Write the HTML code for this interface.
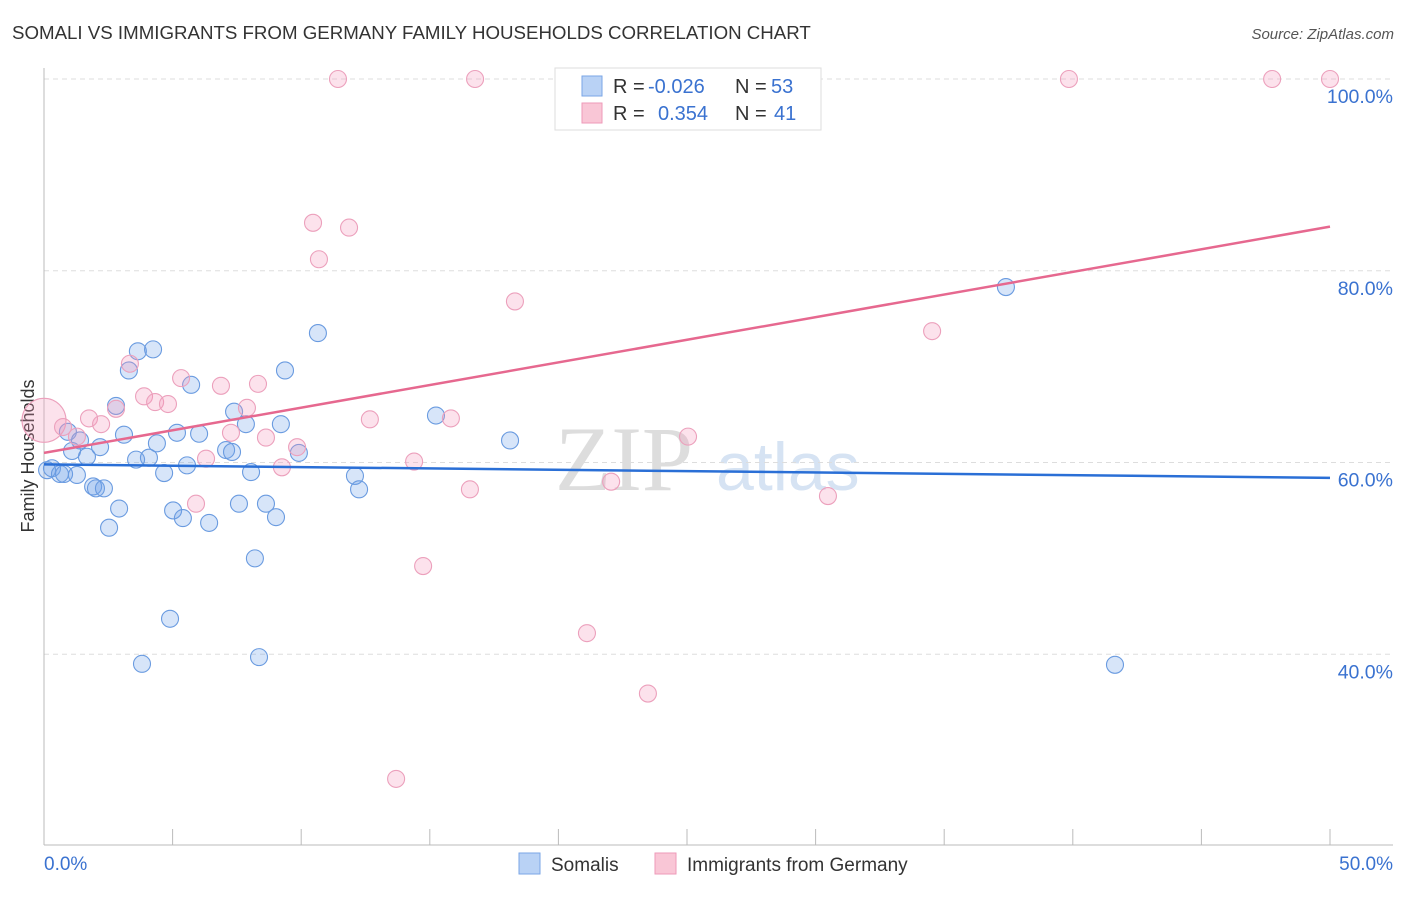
<!DOCTYPE html>
<html><head><meta charset="utf-8"><style>
body{margin:0;background:#fff;font-family:"Liberation Sans",sans-serif;}
#wrap{position:relative;width:1406px;height:892px;}
</style></head><body>
<div id="wrap">
<svg id="svg" width="1406" height="892" xmlns="http://www.w3.org/2000/svg">
<text x="12" y="39" font-size="18.7" fill="#333">SOMALI VS IMMIGRANTS FROM GERMANY FAMILY HOUSEHOLDS CORRELATION CHART</text>
<text x="1394" y="39" font-size="15" fill="#555" font-style="italic" text-anchor="end">Source: ZipAtlas.com</text>
<text x="34" y="456" font-size="18" fill="#333" text-anchor="middle" transform="rotate(-90 34 456)">Family Households</text>
<text x="555" y="490" font-size="92" fill="#ddd" font-family="Liberation Serif,serif">ZIP</text>
<text x="716" y="490" font-size="68" fill="#d6e3f3">atlas</text>
<g id="grid"></g><g id="pts"></g><g id="lines"></g>
<g>
<rect x="555" y="68" width="266" height="62" fill="#fff" stroke="#ddd"/>
<rect x="582" y="76" width="20" height="20" fill="#b9d2f5" stroke="#7aa6e6"/>
<rect x="582" y="103" width="20" height="20" fill="#f9c6d6" stroke="#ee9ab8"/>
<text x="613" y="93" font-size="20" fill="#333">R = <tspan x="648" fill="#3a72d0">-0.026</tspan><tspan x="735">N = </tspan><tspan x="771" fill="#3a72d0">53</tspan></text>
<text x="613" y="120" font-size="20" fill="#333">R = <tspan x="658" fill="#3a72d0">0.354</tspan><tspan x="735">N = </tspan><tspan x="774" fill="#3a72d0">41</tspan></text>
</g>
<g>
<rect x="519" y="853" width="21" height="21" fill="#b9d2f5" stroke="#7aa6e6"/>
<text x="551" y="871" font-size="19" fill="#333">Somalis</text>
<rect x="655" y="853" width="21" height="21" fill="#f9c6d6" stroke="#ee9ab8"/>
<text x="687" y="871" font-size="19" fill="#333">Immigrants from Germany</text>
</g>
</svg>
</div>
<script>
const blueX=[0.12,0.31,0.62,0.78,1.28,0.93,1.09,1.40,1.67,1.91,2.02,2.33,2.18,2.53,2.80,2.92,3.11,3.30,3.65,3.58,4.08,4.24,4.39,4.67,5.02,5.17,5.40,5.56,5.72,6.03,6.42,7.08,7.31,7.39,7.58,7.85,8.05,8.20,8.63,9.02,9.21,9.37,9.91,10.65,12.09,12.25,15.24,18.12,37.40,41.64,3.81,4.90,8.36];
const blueY=[59.2,59.4,58.8,58.8,58.7,63.2,61.2,62.3,60.6,57.5,57.3,57.3,61.6,53.2,65.9,55.2,62.9,69.6,71.6,60.3,60.5,71.8,62.0,58.9,55.0,63.1,54.2,59.7,68.1,63.0,53.7,61.3,61.1,65.3,55.7,64.0,59.0,50.0,55.7,54.3,64.0,69.6,61.0,73.5,58.6,57.2,64.9,62.3,78.3,38.9,39.0,43.7,39.7];
const pinkX=[0,0.74,1.28,1.75,2.22,2.80,3.34,3.89,4.32,4.82,5.33,5.91,6.30,6.88,7.27,7.89,8.32,8.63,9.25,9.84,10.46,10.69,11.43,11.86,12.67,14.39,14.74,15.82,16.56,16.76,18.31,21.11,22.05,23.48,25.04,30.48,34.53,39.85,47.75,50.0,13.69];
const pinkY=[64.4,63.7,62.7,64.6,64.0,65.6,70.3,66.9,66.3,66.1,68.8,55.7,60.4,68.0,63.1,65.7,68.2,62.6,59.5,61.6,85.0,81.2,100,84.5,64.5,60.1,49.2,64.6,57.2,100,76.8,42.2,58.0,35.9,62.7,56.5,73.7,100,100,100,27.0];
const yTicks=[100,80,60,40];
const yTickLabels=["100.0%","80.0%","60.0%","40.0%"];
const xEndLabels=["0.0%","50.0%"];
const blueTrend=[59.8,58.4];
const pinkTrend=[61.0,84.6];
const NS="http://www.w3.org/2000/svg";
const sx=v=>44+v/50*1286, sy=v=>79+(100-v)/20*191.75;
function mk(t,a,p){const e=document.createElementNS(NS,t);for(const k in a)e.setAttribute(k,a[k]);p.appendChild(e);return e;}
const g=document.getElementById('grid');
yTicks.forEach((t,i)=>{
 const l=mk('line',{x1:44,x2:1393,y1:sy(t),y2:sy(t),stroke:'#ddd','stroke-dasharray':'5,4'},g);
 
 
 const tx=mk('text',{x:1393,y:sy(t)+24,'font-size':19.5,fill:'#3a72d0','text-anchor':'end'},g);
 tx.textContent=yTickLabels[i];
 
 
});
let ax=mk('line',{x1:44,x2:44,y1:68,y2:845,stroke:'#bbb'},g);


ax=mk('line',{x1:44,x2:1393,y1:845,y2:845,stroke:'#bbb'},g);


for(let i=0;i<=10;i++){const t=mk('line',{x1:sx(i*5),x2:sx(i*5),y1:829,y2:845,stroke:'#bbb'},g);
 
 }
[[0,'start',44],[1,'end',1393]].forEach(([i,a,x])=>{const t=mk('text',{x:x,y:870,'font-size':19,fill:'#3a72d0','text-anchor':a},g);t.textContent=xEndLabels[i];
 
 });
const P=document.getElementById('pts');
blueX.forEach((x,i)=>{const c=mk('circle',{cx:sx(x),cy:sy(blueY[i]),r:8.5,fill:'rgba(110,160,235,0.28)',stroke:'#6a9be0','stroke-width':1.1},P);
 
 });
pinkX.forEach((x,i)=>{const c=mk('circle',{cx:sx(x),cy:sy(pinkY[i]),r:i===0?22:8.5,fill:'rgba(245,150,185,0.28)',stroke:'#eca0bc','stroke-width':1.1},P);
 
 });
const L=document.getElementById('lines');
let tl=mk('line',{x1:sx(0),x2:sx(50),y1:sy(blueTrend[0]),y2:sy(blueTrend[1]),stroke:'#2a6fd6','stroke-width':2.5},L);


tl=mk('line',{x1:sx(0),x2:sx(50),y1:sy(pinkTrend[0]),y2:sy(pinkTrend[1]),stroke:'#e6688f','stroke-width':2.5},L);


</script>
</body></html>
